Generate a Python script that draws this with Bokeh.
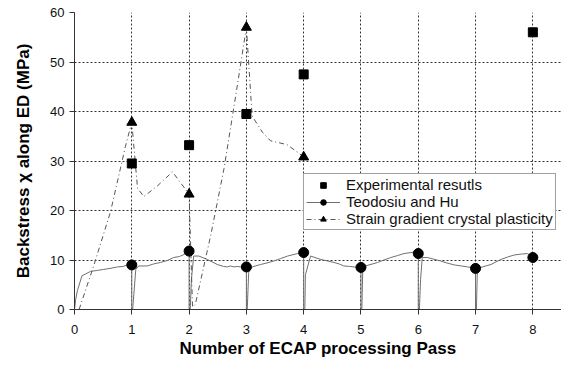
from bokeh.plotting import figure
from bokeh.models import Range1d, FixedTicker, Legend, LegendItem
from bokeh.embed import file_html
from bokeh.resources import INLINE

# ---- data ----
passes = [1, 2, 3, 4, 5, 6, 7, 8]

exp_pass = [1, 2, 3, 4, 8]
exp_vals = [29.5, 33.2, 39.5, 47.5, 56.0]

th_vals = [9.0, 11.8, 8.6, 11.5, 8.5, 11.3, 8.3, 10.5]

th_curve_x = [0.0, 0.02, 0.05, 0.13, 0.28, 0.4, 0.51, 0.62, 0.75, 0.85, 0.92, 1.0,
              1.0, 1.015, 1.07, 1.12, 1.27, 1.38, 1.5, 1.62, 1.73, 1.83, 1.91, 2.0,
              2.0, 2.02, 2.04, 2.08, 2.17, 2.32, 2.49, 2.6, 2.67, 2.72, 2.78, 2.84, 2.9, 3.0,
              3.0, 3.015, 3.04, 3.1, 3.25, 3.36, 3.48, 3.6, 3.72, 3.89, 4.0,
              4.0, 4.02, 4.03, 4.12, 4.3, 4.42, 4.53, 4.62, 4.7, 4.8, 4.88, 5.0,
              5.0, 5.015, 5.03, 5.08, 5.29, 5.4, 5.52, 5.64, 5.75, 5.93, 6.0,
              6.0, 6.02, 6.04, 6.07, 6.16, 6.39, 6.5, 6.63, 6.75, 6.86, 7.0,
              7.0, 7.015, 7.03, 7.09, 7.27, 7.44, 7.56, 7.67, 7.8, 7.91, 8.0]
th_curve_y = [0.0, 2.0, 3.8, 6.8, 7.7, 7.9, 8.1, 8.3, 8.6, 8.7, 9.0, 9.0,
              0.0, 0.0, 8.1, 8.8, 8.8, 9.2, 9.5, 9.9, 10.5, 10.7, 11.1, 11.8,
              0.0, 0.0, 6.0, 10.8, 10.8, 10.1, 9.1, 8.7, 8.6, 8.8, 8.6, 8.7, 8.6, 8.6,
              0.0, 0.0, 7.5, 8.6, 9.1, 9.4, 9.8, 10.3, 10.8, 11.3, 11.5,
              0.0, 0.0, 7.0, 10.8, 10.1, 9.8, 9.5, 9.2, 8.8, 8.7, 8.6, 8.5,
              0.0, 0.0, 7.5, 8.8, 9.5, 10.0, 10.5, 10.9, 11.3, 11.6, 11.3,
              0.0, 0.0, 6.0, 10.5, 10.5, 9.8, 9.4, 9.0, 8.8, 8.6, 8.3,
              0.0, 0.0, 7.3, 8.5, 9.1, 10.1, 10.6, 11.0, 11.2, 11.3, 10.5]

sg_pass = [1, 2, 3, 4]
sg_vals = [37.8, 23.3, 57.0, 30.8]

sg_curve_x = [0.08, 0.34, 0.63, 0.89, 1.0, 1.1, 1.21, 1.45, 1.71, 2.0,
              2.06, 2.11, 2.38, 2.61, 2.84, 3.0,
              3.1, 3.28, 3.42, 3.71, 3.89, 4.0]
sg_curve_y = [0.0, 9.0, 19.8, 33.0, 37.8, 24.5, 22.8, 25.0, 27.8, 23.3,
              0.5, 1.1, 15.1, 28.5, 45.1, 57.0,
              39.1, 35.8, 34.1, 33.3, 31.8, 30.8]

x_ticks = [0, 1, 2, 3, 4, 5, 6, 7, 8]
y_ticks = [0, 10, 20, 30, 40, 50, 60]

FONT = "Liberation Sans"

p = figure(width=561, height=361, output_backend="svg", toolbar_location=None,
           x_range=Range1d(0, 8.5), y_range=Range1d(0, 60),
           min_border_left=74, min_border_right=0, min_border_top=12, min_border_bottom=52)
p.outline_line_color = None
p.background_fill_color = "white"
p.border_fill_color = "white"

# axes
for ax in (p.xaxis[0], p.yaxis[0]):
    ax.axis_line_color = "#333333"
    ax.major_tick_line_color = "#333333"
    ax.minor_tick_line_color = None
    ax.major_tick_in = 0
    ax.major_tick_out = 5
    ax.major_label_text_font = FONT
    ax.major_label_text_font_size = "13px"
    ax.major_label_text_color = "#111111"
    ax.axis_label_text_font = FONT
    ax.axis_label_text_font_size = "17px"
    ax.axis_label_text_font_style = "bold"
    ax.axis_label_text_color = "#000000"

p.xaxis.ticker = FixedTicker(ticks=x_ticks)
p.yaxis.ticker = FixedTicker(ticks=y_ticks)
p.xaxis.axis_label = "Number of ECAP processing Pass"
p.yaxis.axis_label = "Backstress χ along ED (MPa)"
p.xaxis.major_label_standoff = 10
p.yaxis.major_label_standoff = 5
p.xaxis.axis_label_standoff = 2
p.yaxis.axis_label_standoff = 14

# grid
p.xgrid.ticker = FixedTicker(ticks=passes)
p.ygrid.ticker = FixedTicker(ticks=y_ticks[1:])
for g in (p.xgrid[0], p.ygrid[0]):
    g.grid_line_color = "#333333"
    g.grid_line_dash = "2 2"
    g.grid_line_width = 1

# renderers
th_line = p.line(th_curve_x, th_curve_y, line_color="#707070", line_width=1)
sg_line = p.line(sg_curve_x, sg_curve_y, line_color="#555555", line_width=1, line_dash="5 3 1 3")
th_pts = p.scatter(passes, th_vals, marker="circle", size=10, color="black")
sg_pts = p.scatter(sg_pass, sg_vals, marker="triangle", size=10, color="black")
exp_pts = p.scatter(exp_pass, exp_vals, marker="square", size=9, color="black")

legend = Legend(items=[
    LegendItem(label="Experimental resutls", renderers=[exp_pts]),
    LegendItem(label="Teodosiu and Hu", renderers=[th_line, th_pts]),
    LegendItem(label="Strain gradient crystal plasticity", renderers=[sg_line, sg_pts]),
], location=(229, 79))
legend.label_text_font = FONT
legend.label_text_font_size = "15px"
legend.label_text_color = "#111111"
legend.border_line_color = "#444444"
legend.border_line_width = 1
legend.background_fill_color = "white"
legend.background_fill_alpha = 1.0
legend.padding = 2
legend.spacing = 0
legend.margin = 0
legend.glyph_width = 34
legend.glyph_height = 14
legend.label_height = 14
legend.label_standoff = 6
p.add_layout(legend)

open("out.html", "w").write(file_html(p, INLINE))
